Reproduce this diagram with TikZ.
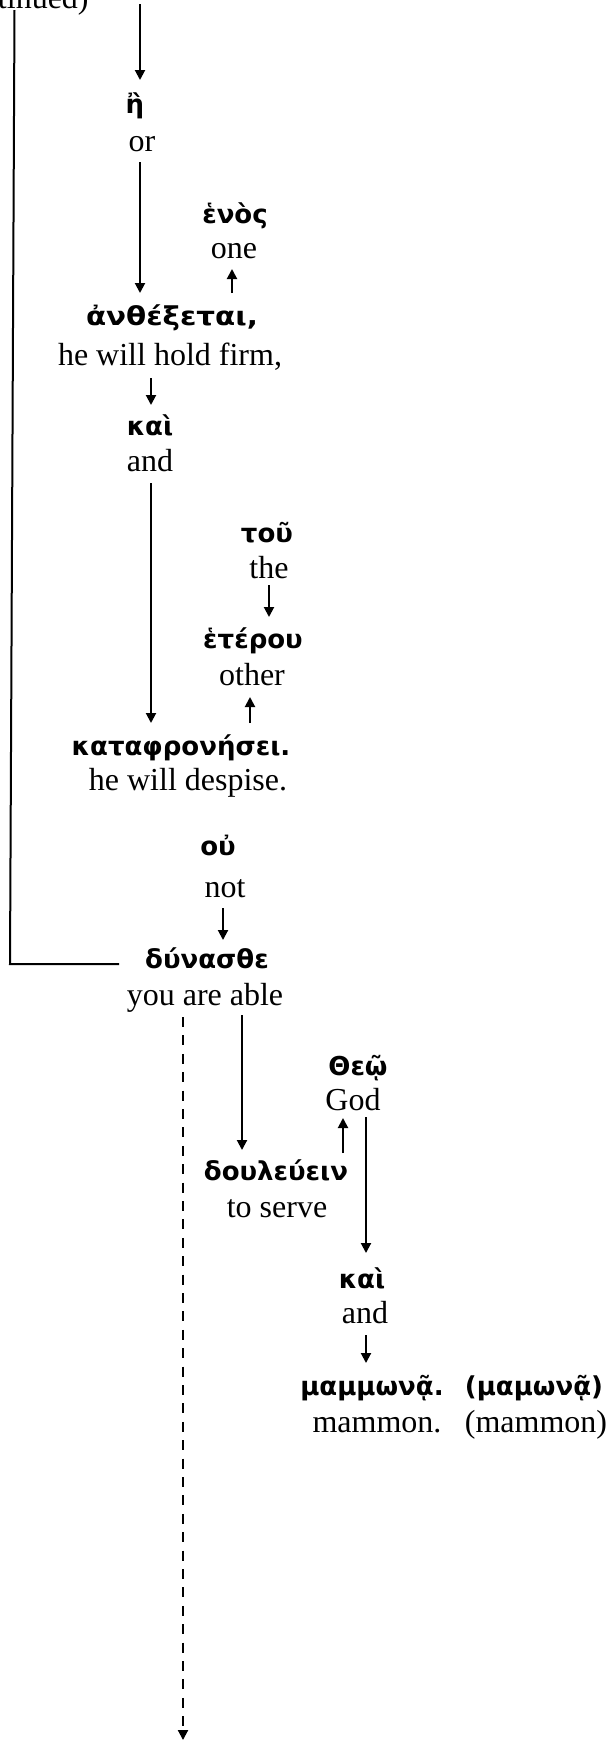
\documentclass[tikz,border=0pt]{standalone}
\usepackage{fontspec}
\setmainfont{Liberation Serif}
\newfontfamily\grk{DejaVu Sans}
\usetikzlibrary{arrows.meta,calc}
\begin{document}
\begin{tikzpicture}[x=0.5pt,y=-0.5pt,
  gk/.style={inner sep=0pt,anchor=base,font=\grk\bfseries\fontsize{13}{15}\selectfont},
  en/.style={inner sep=0pt,anchor=base,font=\fontsize{16}{19}\selectfont},
  ln/.style={line width=1pt},
  arr/.style={line width=1pt,-{Triangle[length=5pt,width=5pt]}},
  darr/.style={arr,dash pattern=on 5pt off 4.2pt}]
\useasboundingbox (0,0) rectangle (610,1742);
% words
\node[en,anchor=base east] (cont) at (89,8) {(continued)};
\node[gk] (eta) at (135,113) {ἢ};
\node[en] (g_eta) at (142,151) {or};
\node[gk] (henos) at (235,223) {ἑνὸς};
\node[en] (g_henos) at (234,258) {one};
\node[gk] (anth) at (172,325) {\scalebox{1.13}[1]{ἀνθέξεται,}};
\node[en] (g_anth) at (170,365) {he will hold firm,};
\node[gk] (kai1) at (150,435) {καὶ};
\node[en] (g_kai1) at (150,471) {and};
\node[gk] (tou) at (267,542) {τοῦ};
\node[en] (g_tou) at (269,578) {the};
\node[gk] (het) at (253,648) {ἑτέρου};
\node[en] (g_het) at (252,685) {other};
\node[gk] (kat) at (181,755) {καταφρονήσει.};
\node[en] (g_kat) at (188,790) {he will despise.};
\node[gk] (ou) at (218,855) {οὐ};
\node[en] (g_ou) at (225,897) {not};
\node[gk] (dyn) at (207,968) {δύνασθε};
\node[en] (g_dyn) at (205,1005) {you are able};
\node[gk] (theo) at (358,1075) {Θεῷ};
\node[en] (g_theo) at (353,1110) {God};
\node[gk] (doul) at (276,1180) {δουλεύειν};
\node[en] (g_doul) at (277,1217) {to serve};
\node[gk] (kai2) at (362,1288) {καὶ};
\node[en] (g_kai2) at (365,1323) {and};
\node[gk] (mam) at (372,1395) {μαμμωνᾷ.};
\node[en] (g_mam) at (377,1432) {mammon.};
\node[gk] (mam2) at (534,1395) {(μαμωνᾷ)};
\node[en] (g_mam2) at (536,1432) {(mammon)};
% connectors
\coordinate (topin) at (140,4);
\draw[arr] (topin) -- ($(eta.base)+(5,-33)$);
\draw[arr] ($(g_eta.base)+(-2,11)$) -- ($(g_eta.base)+(-2,142)$);
\draw[arr] ($(anth.base)+(60,-32)$) -- ($(anth.base)+(60,-56)$);
\draw[arr] ($(g_anth.base)+(-19,13)$) -- ($(g_anth.base)+(-19,40)$);
\draw[arr] ($(g_kai1.base)+(1,12)$) -- ($(g_kai1.base)+(1,252)$);
\draw[arr] ($(g_tou.base)+(0,7)$) -- ($(g_tou.base)+(0,39)$);
\draw[arr] ($(kat.base)+(69,-32)$) -- ($(kat.base)+(69,-58)$);
\draw[arr] ($(g_ou.base)+(-2,11)$) -- ($(g_ou.base)+(-2,43)$);
\draw[ln] ($(cont.base east)+(-74.5,2)$) -- ($(dyn.base)+(-197,-4)$) -- ($(dyn.base)+(-88,-4)$);
\draw[darr] ($(g_dyn.base)+(-22,12)$) -- ($(g_dyn.base)+(-22,735)$);
\draw[arr] ($(g_dyn.base)+(37,10)$) -- ($(g_dyn.base)+(37,145)$);
\draw[arr] ($(doul.base)+(67,-27)$) -- ($(doul.base)+(67,-62)$);
\draw[arr] ($(g_theo.base)+(13,7)$) -- ($(g_theo.base)+(13,143)$);
\draw[arr] ($(g_kai2.base)+(1,12)$) -- ($(g_kai2.base)+(1,40)$);
\end{tikzpicture}
\end{document}
